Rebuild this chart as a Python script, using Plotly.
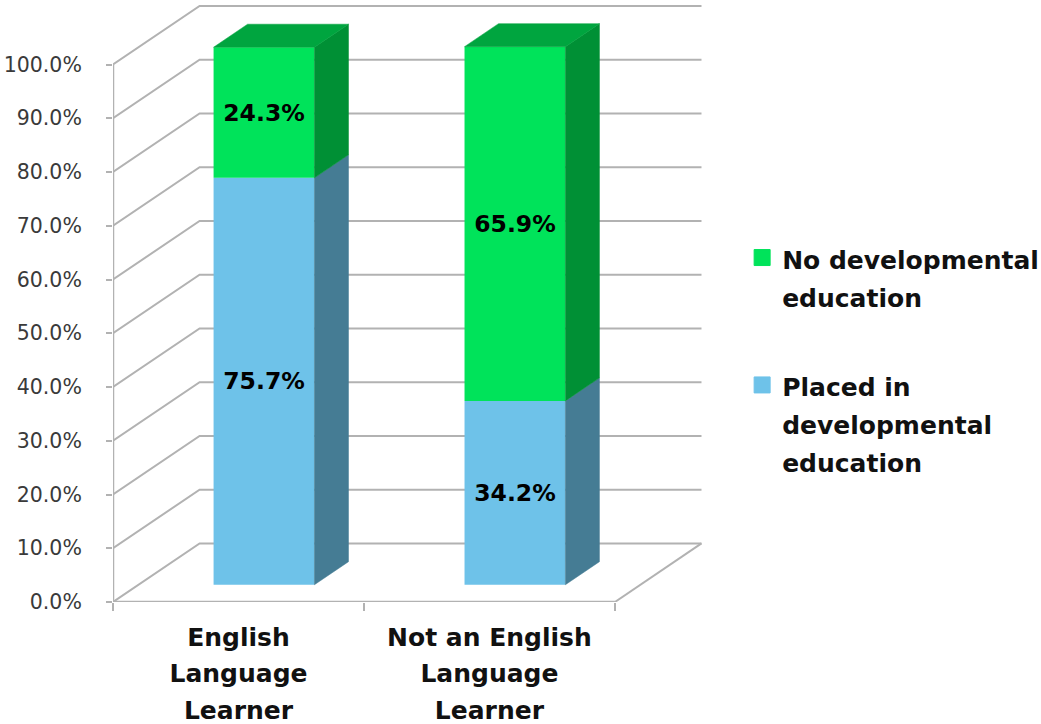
import plotly.graph_objects as go

categories = ["English<br>Language<br>Learner", "Not an English<br>Language<br>Learner"]
placed = [75.7, 34.2]
not_placed = [24.3, 65.9]
placed_name = "Placed in<br>developmental<br>education"
not_placed_name = "No developmental<br>education"
y_ticks = [0, 10, 20, 30, 40, 50, 60, 70, 80, 90, 100]

GREEN, GREEN_SIDE, GREEN_TOP = "#00E35A", "#009035", "#00A53F"
BLUE, BLUE_SIDE = "#6EC2E9", "#457C94"
GRID = "#B2B2B2"
BOLD = "DejaVu Sans"

# pseudo-3D projection: depth d (0 front, 1 back wall)
DX, DY = 0.345, 10.9
FRONT, BACK = 0.295, 0.688
HALF = 0.201


def pr(x, v, d):
    return x + d * DX, v + d * DY


def sized(t, size=25):
    return "<br>".join(f'<span style="font-size:{size}px">{p}</span>' for p in t.split("<br>"))


n = len(categories)
centers = [i + 0.5 for i in range(n)]
fig = go.Figure()

# walls and floor
shapes = []
for v in y_ticks:
    x0, y0 = pr(0, v, 0)
    x1, y1 = pr(0, v, 1)
    x2, y2 = pr(n, v, 1)
    shapes.append(dict(type="path", path=f"M{x0},{y0}L{x1},{y1}L{x2},{y2}", layer="below",
                       line=dict(color=GRID, width=2)))
xa, ya = pr(n, 0, 0)
xb, yb = pr(n, 0, 1)
shapes.append(dict(type="path", path=f"M{xa},{ya}L{xb},{yb}", layer="below", line=dict(color=GRID, width=2)))
shapes.append(dict(type="path", path=f"M0,0L{xa},{ya}", layer="below", line=dict(color=GRID, width=2.5)))
shapes.append(dict(type="path", path="M0,0L0,100", layer="below", line=dict(color=GRID, width=2.5)))


def poly(pts, color):
    fig.add_trace(go.Scatter(x=[p[0] for p in pts] + [pts[0][0]], y=[p[1] for p in pts] + [pts[0][1]],
                             mode="lines", fill="toself", fillcolor=color, line=dict(color=color, width=0.5),
                             hoverinfo="skip", showlegend=False))


# front faces
shift = pr(0, 0, FRONT)
fig.add_trace(go.Bar(x=[c + shift[0] for c in centers], y=placed, base=[shift[1]] * n, width=2 * HALF,
                     marker=dict(color=BLUE, line=dict(width=0)), text=[f"{v:.1f}%" for v in placed],
                     textposition="inside", insidetextanchor="middle", textangle=0,
                     textfont=dict(family=BOLD, size=23.5, color="black", weight="bold"), showlegend=False))
fig.add_trace(go.Bar(x=[c + shift[0] for c in centers], y=not_placed,
                     base=[shift[1] + p for p in placed], width=2 * HALF,
                     marker=dict(color=GREEN, line=dict(width=0)), text=[f"{v:.1f}%" for v in not_placed],
                     textposition="inside", insidetextanchor="middle", textangle=0,
                     textfont=dict(family=BOLD, size=23.5, color="black", weight="bold"), showlegend=False))

# side and top faces
for c, a, b in zip(centers, placed, not_placed):
    r = c + HALF
    l = c - HALF
    poly([pr(r, 0, FRONT), pr(r, 0, BACK), pr(r, a, BACK), pr(r, a, FRONT)], BLUE_SIDE)
    poly([pr(r, a, FRONT), pr(r, a, BACK), pr(r, a + b, BACK), pr(r, a + b, FRONT)], GREEN_SIDE)
    poly([pr(l, a + b, FRONT), pr(r, a + b, FRONT), pr(r, a + b, BACK), pr(l, a + b, BACK)], GREEN_TOP)

# legend entries
for name, color in [(not_placed_name, GREEN), (placed_name, BLUE)]:
    fig.add_trace(go.Scatter(x=[None], y=[None], mode="markers", name=sized(name), legendgroup=color,
                             marker=dict(symbol="square", size=16, color=color, line=dict(color=color, width=1))))

fig.update_layout(
    width=1041, height=724, margin=dict(l=113, r=336, t=0, b=122, pad=0),
    paper_bgcolor="white", plot_bgcolor="white", barmode="overlay", shapes=shapes,
    legend=dict(xref="container", yref="container", x=0.7129, y=0.6793, xanchor="left", yanchor="top",
                bgcolor="rgba(0,0,0,0)", valign="top", traceorder="grouped",
                font=dict(family=BOLD, size=29, color="#111111", weight="bold"),
                tracegroupgap=49, itemwidth=30),
    xaxis=dict(range=[0, 2.359], tickmode="array", tickvals=centers, ticktext=[sized(c) for c in categories],
               ticks="", showgrid=False, zeroline=False, showline=False, tickangle=0, ticklabelstandoff=15,
               automargin=False,
               tickfont=dict(family=BOLD, size=28, color="#111111", weight="bold"),
               minor=dict(tickvals=[0, 1, 2], ticks="outside", ticklen=8, tickwidth=2, tickcolor=GRID, showgrid=False)),
    yaxis=dict(range=[0, 112], tickmode="array", tickvals=y_ticks, ticktext=[f"{v:.1f}%" for v in y_ticks],
               ticks="outside", ticklen=6, tickwidth=2, tickcolor=GRID, showgrid=False, zeroline=False, showline=False,
               automargin=False,
               tickfont=dict(family="DejaVu Sans", size=20.5, color="#3A3A3A"), ticklabelstandoff=20),
)
fig.write_html("out.html", config={"displayModeBar": False},
               post_script="document.body.style.margin='0';document.body.style.overflow='hidden';")
